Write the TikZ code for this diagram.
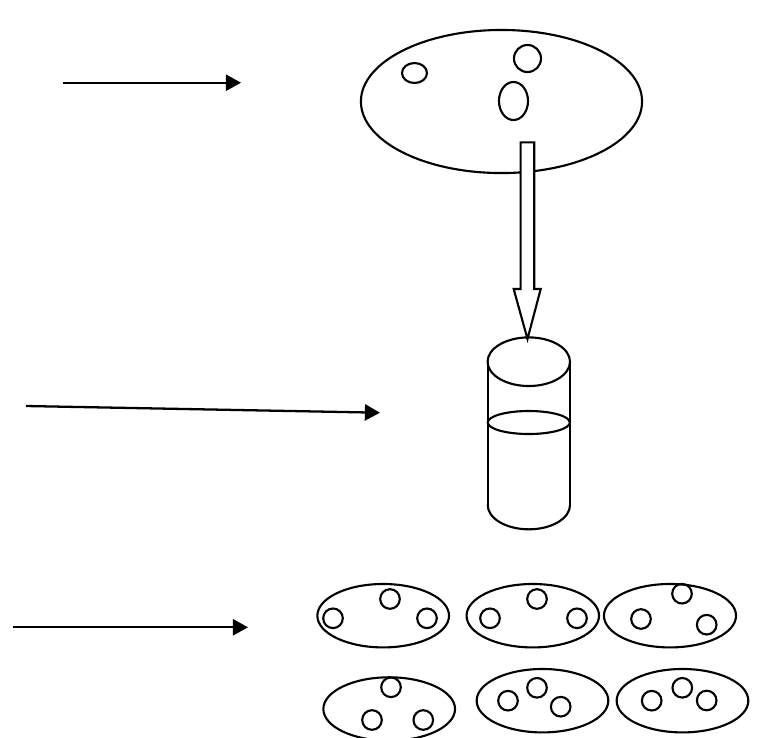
\documentclass[tikz,border=0pt]{standalone}
\usetikzlibrary{arrows.meta}
\begin{document}
\begin{tikzpicture}[x=0.01cm, y=-0.01cm,
  outline/.style={draw=black, line width=0.6pt},
  pointer/.style={draw=black, line width=0.65pt, -{Triangle[length=4.3pt, width=4.6pt]}},
  cell/.style={outline},
]
\useasboundingbox (0,0) rectangle (759,738);

% left-hand pointers
\coordinate (p1s) at (63,82.7);   \coordinate (p1e) at (241,82.7);
\coordinate (p2s) at (26,406);    \coordinate (p2e) at (380,412.7);
\coordinate (p3s) at (13,627.3);  \coordinate (p3e) at (248,627.3);
\draw[pointer] (p1s) -- (p1e);
\draw[pointer] (p2s) -- (p2e);
\draw[pointer] (p3s) -- (p3e);

% large dish with three colonies
\draw[outline] (501.5,101.5) ellipse [x radius=1.405cm, y radius=0.715cm];
\draw[cell] (414.5,73) ellipse [x radius=0.125cm, y radius=0.10cm];
\draw[cell] (527.5,58.5) ellipse [x radius=0.135cm, y radius=0.135cm];
\draw[cell] (513.5,101) ellipse [x radius=0.145cm, y radius=0.19cm];

% tube with liquid
\draw[outline] (487.7,361.7) -- (487.7,505);
\draw[outline] (570,361.7) -- (570,505);
\draw[outline] (528.8,361.7) ellipse [x radius=0.412cm, y radius=0.243cm];
\draw[outline] (528.8,422.5) ellipse [x radius=0.41cm, y radius=0.115cm];
\draw[outline] (487.7,505) arc [start angle=180, end angle=360, x radius=0.4115cm, y radius=0.243cm];

% hollow transfer arrow
\draw[outline, fill=white] (520.7,142.3) -- (534.3,142.3) -- (534.3,289)
  -- (540.7,289) -- (527.5,339) -- (513.7,289) -- (520.7,289) -- cycle;

% six plates, top row
\draw[outline] (383.2,615.7) ellipse [x radius=0.658cm, y radius=0.317cm];
\draw[cell] (333,618.3) circle [radius=0.098cm];
\draw[cell] (390,599) circle [radius=0.098cm];
\draw[cell] (427,618.3) circle [radius=0.098cm];

\draw[outline] (532.8,615.7) ellipse [x radius=0.662cm, y radius=0.317cm];
\draw[cell] (490,618.3) circle [radius=0.098cm];
\draw[cell] (537,599) circle [radius=0.098cm];
\draw[cell] (577,618.3) circle [radius=0.098cm];

\draw[outline] (670,615.7) ellipse [x radius=0.66cm, y radius=0.317cm];
\draw[cell] (641,619) circle [radius=0.098cm];
\draw[cell] (682,593.7) circle [radius=0.098cm];
\draw[cell] (706.7,624.7) circle [radius=0.098cm];

% six plates, bottom row
\draw[outline] (389.2,709) ellipse [x radius=0.658cm, y radius=0.317cm];
\draw[cell] (372,720) circle [radius=0.098cm];
\draw[cell] (391,687.3) circle [radius=0.098cm];
\draw[cell] (423.3,720) circle [radius=0.098cm];

\draw[outline] (542.5,700.7) ellipse [x radius=0.658cm, y radius=0.317cm];
\draw[cell] (508,700.7) circle [radius=0.098cm];
\draw[cell] (537,687.8) circle [radius=0.098cm];
\draw[cell] (560.7,706.7) circle [radius=0.098cm];

\draw[outline] (682.5,700.7) ellipse [x radius=0.658cm, y radius=0.317cm];
\draw[cell] (651.7,700.7) circle [radius=0.098cm];
\draw[cell] (682.3,687.8) circle [radius=0.098cm];
\draw[cell] (706.7,700.5) circle [radius=0.098cm];
\end{tikzpicture}
\end{document}
